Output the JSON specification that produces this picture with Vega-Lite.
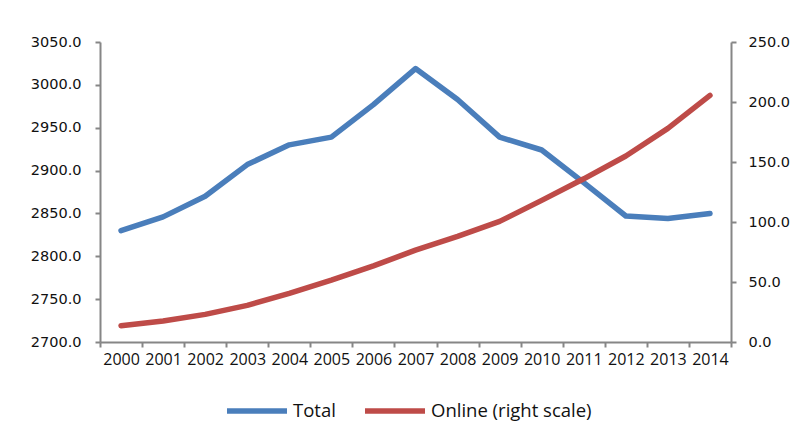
{
  "$schema": "https://vega.github.io/schema/vega-lite/v6.json",
  "width": 631,
  "height": 300,
  "autosize": {"type": "none"},
  "padding": {"left": 100, "top": 42, "right": 68, "bottom": 92},
  "background": "white",
  "config": {
    "view": {"stroke": null},
    "axis": {
      "domainColor": "#868686",
      "tickColor": "#868686",
      "domainWidth": 2,
      "tickWidth": 2,
      "tickSize": 5,
      "grid": false,
      "labelColor": "#111111",
      "titleFontSize": 0
    },
    "legend": {
      "labelFont": "Open Sans",
      "labelFontSize": 18.5,
      "labelColor": "#111111",
      "labelLimit": 400
    }
  },
  "data": {
    "values": [
      {"year": "2000", "Total": 2830, "Online": 13.5},
      {"year": "2001", "Total": 2846, "Online": 17.5},
      {"year": "2002", "Total": 2870, "Online": 23},
      {"year": "2003", "Total": 2907, "Online": 30.5},
      {"year": "2004", "Total": 2930, "Online": 40.5},
      {"year": "2005", "Total": 2939, "Online": 51.5},
      {"year": "2006", "Total": 2977, "Online": 63.5},
      {"year": "2007", "Total": 3019, "Online": 76.5},
      {"year": "2008", "Total": 2983, "Online": 88},
      {"year": "2009", "Total": 2939, "Online": 100.5},
      {"year": "2010", "Total": 2924, "Online": 118},
      {"year": "2011", "Total": 2886, "Online": 136},
      {"year": "2012", "Total": 2847, "Online": 155},
      {"year": "2013", "Total": 2844, "Online": 178},
      {"year": "2014", "Total": 2850, "Online": 205.5}
    ]
  },
  "encoding": {
    "x": {
      "field": "year",
      "type": "ordinal",
      "title": null,
      "scale": {"paddingInner": 0, "paddingOuter": 0},
      "axis": {
        "labelAngle": 0,
        "tickBand": "extent",
        "labelFont": "Open Sans",
        "labelFontSize": 16,
        "labelPadding": 4
      }
    }
  },
  "layer": [
    {
      "mark": {"type": "line", "strokeWidth": 5.5, "strokeCap": "round", "strokeJoin": "round"},
      "encoding": {
        "y": {
          "field": "Total",
          "type": "quantitative",
          "title": null,
          "scale": {"domain": [2700, 3050], "zero": false, "nice": false},
          "axis": {
            "orient": "left",
            "values": [2700, 2750, 2800, 2850, 2900, 2950, 3000, 3050],
            "format": ".1f",
            "labelFont": "DejaVu Sans",
            "labelFontSize": 14.5,
            "labelPadding": 14
          }
        },
        "color": {
          "datum": "Total",
          "type": "nominal",
          "scale": {"domain": ["Total", "Online (right scale)"], "range": ["#4A7EBB", "#BE4B48"]},
          "legend": {
            "title": null,
            "orient": "none",
            "direction": "horizontal",
            "legendX": 124,
            "legendY": 336,
            "symbolType": "stroke",
            "symbolSize": 3600,
            "symbolStrokeWidth": 5.5,
            "labelOffset": 3,
            "columnPadding": 18,
            "labelLimit": 400
          }
        }
      }
    },
    {
      "mark": {"type": "line", "strokeWidth": 5.5, "strokeCap": "round", "strokeJoin": "round"},
      "encoding": {
        "y": {
          "field": "Online",
          "type": "quantitative",
          "title": null,
          "scale": {"domain": [0, 250], "nice": false},
          "axis": {
            "orient": "right",
            "values": [0, 50, 100, 150, 200, 250],
            "format": ".1f",
            "labelFont": "DejaVu Sans",
            "labelFontSize": 14.5,
            "labelPadding": 12
          }
        },
        "color": {"datum": "Online (right scale)", "type": "nominal"}
      }
    }
  ],
  "resolve": {"scale": {"y": "independent"}}
}
